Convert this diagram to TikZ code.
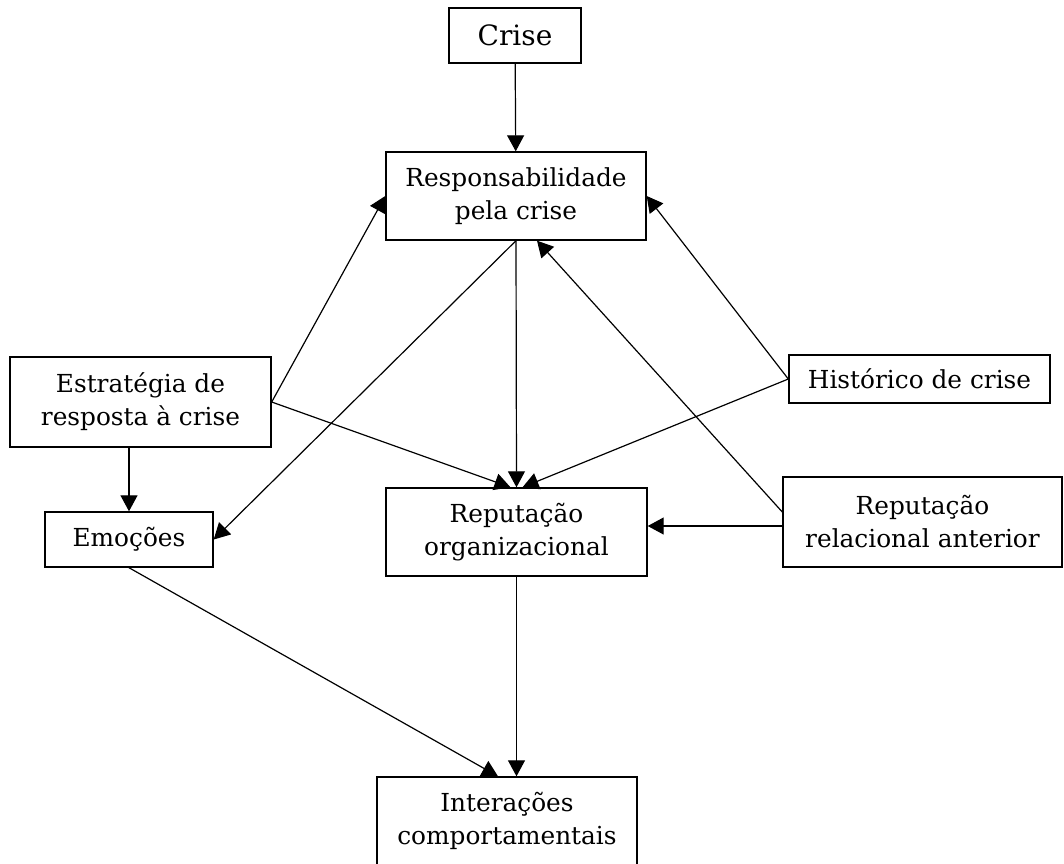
\documentclass[tikz,border=0pt]{standalone}
\usepackage{fontspec}
\setmainfont{DejaVu Serif}
\usetikzlibrary{arrows.meta}

\begin{document}
\begin{tikzpicture}[x=0.5pt,y=-0.5pt,line width=0.7pt,
  box/.style={draw,rectangle,align=center,inner sep=0pt,font=\fontsize{12.4}{16.5}\selectfont},
  link/.style={-{Triangle[length=8pt,width=8.5pt]},line width=0.6pt}]
\useasboundingbox (0,0) rectangle (1064,863);

% Boxes
\node[box,minimum width=66pt,minimum height=27.5pt,font=\fontsize{14}{17}\selectfont] (crise) at (515,35.5) {Crise};
\node[box,minimum width=130pt,minimum height=44pt] (resp) at (516,196) {Responsabilidade\\pela crise};
\node[box,minimum width=130.5pt,minimum height=45pt] (estr) at (140.5,402) {Estratégia de\\resposta à crise};
\node[box,minimum width=130.5pt,minimum height=24pt] (hist) at (919.5,379) {Histórico de crise};
\node[box,minimum width=84pt,minimum height=27.5pt] (emo) at (129,539.5) {Emoções};
\node[box,minimum width=130.5pt,minimum height=44pt] (reporg) at (516.5,532) {Reputação\\organizacional};
\node[box,minimum width=139.5pt,minimum height=45pt] (reprel) at (922.5,522) {Reputação\\relacional anterior};
\node[box,minimum width=130pt,minimum height=44pt] (inter) at (507,821) {Interações\\comportamentais};

% Arrows into responsibility
\draw[link] (crise) -- (resp);
\draw[link] (estr.east) -- (resp.west);
\draw[link] (hist.west) -- (resp.east);
\draw[link] ([yshift=5pt]reprel.west) -- ([xshift=10.5pt]resp.south);

% Arrows into reputation
\draw[link] (resp.south) -- (reporg.north);
\draw[link] (estr.east) -- ([xshift=-3pt]reporg.north);
\draw[link] (hist.west) -- ([xshift=3pt]reporg.north);
\draw[link] ([yshift=-2pt]reprel.west) -- ([yshift=-2pt]reprel.west -| reporg.east);

% Emotions
\draw[link] (emo.north |- estr.south) -- (emo.north);
\draw[link] (resp.south) -- (emo.east);

% Behaviour
\draw[link] (emo.south) -- ([xshift=-4.5pt]inter.north);
\draw[link] (reporg.south) -- (reporg.south |- inter.north);

\end{tikzpicture}
\end{document}
